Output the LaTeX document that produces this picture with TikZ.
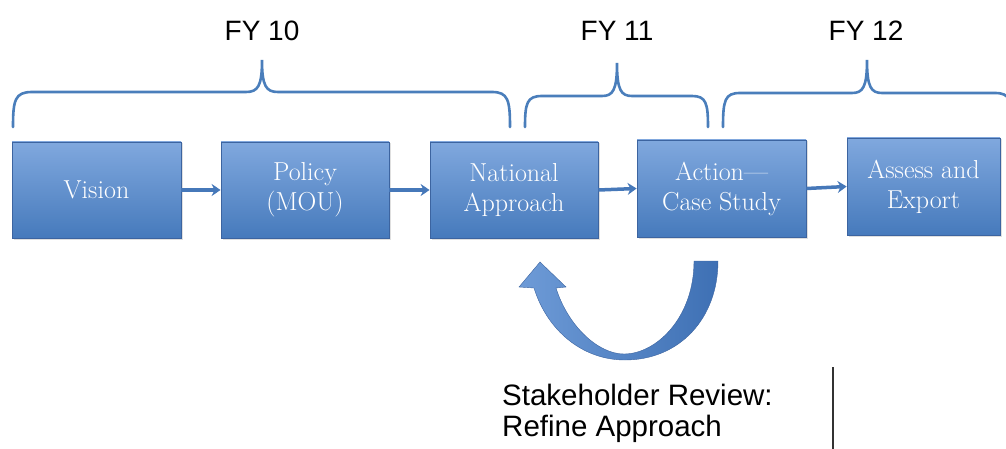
\documentclass[tikz,border=0pt]{standalone}
\usepackage{fontspec}
\setsansfont{Liberation Sans}
\usetikzlibrary{arrows.meta,shadows}
\definecolor{brc}{RGB}{74,126,187}
\definecolor{boxtop}{RGB}{128,168,222}
\definecolor{boxbot}{RGB}{70,122,188}
\definecolor{boxdraw}{RGB}{60,100,160}
\definecolor{arrc}{RGB}{70,120,185}
\definecolor{looplight}{RGB}{110,155,215}
\definecolor{loopdark}{RGB}{62,112,180}
\begin{document}
\begin{tikzpicture}[x=1pt,y=-1pt,
  stagebox/.style={draw=boxdraw,line width=0.8pt,top color=boxtop,bottom color=boxbot,
    text=white,align=center,inner sep=0pt,
    font=\fontsize{26}{30}\selectfont,
    drop shadow={shadow xshift=1.5pt,shadow yshift=-1.5pt,opacity=0.25}},
  flow/.style={draw=arrc,line width=3.5pt,-{Stealth[length=9pt,width=12pt]}},
  bracepath/.style={draw=brc,line width=2.6pt,line cap=round},
  fylabel/.style={font=\sffamily\fontsize{28}{32}\selectfont,inner sep=0pt},
  loopshape/.style={left color=looplight,right color=loopdark,draw=boxdraw,line width=0.4pt}
]
\useasboundingbox (0,0) rectangle (1006,449);
% boxes
\node[stagebox,minimum width=169pt,minimum height=96pt] (vision) at (96.5,190) {Vision};
\node[stagebox,minimum width=168pt,minimum height=96pt] (policy) at (305,190) {Policy\\(MOU)};
\node[stagebox,minimum width=168pt,minimum height=96pt] (national) at (514,190) {National\\Approach};
\node[stagebox,minimum width=169pt,minimum height=97pt] (action) at (721.5,188.5) {Action---\\Case Study};
\node[stagebox,minimum width=153pt,minimum height=97pt] (assess) at (923.5,186.5) {Assess and\\Export};
% arrows
\draw[flow] (vision.east) -- (policy.west);
\draw[flow] (policy.east) -- (national.west);
\draw[flow] (national.east) -- (action.west);
\draw[flow] (action.east) -- (assess.west);
% braces
\draw[bracepath] (13,127) .. controls (13,100) and (15,92) .. (32,92) -- (246,92)
  .. controls (258,92) and (262,86) .. (262,60) .. controls (262,86) and (266,92) .. (278,92)
  -- (492,92) .. controls (508,92) and (510,100) .. (510,127);
\draw[bracepath] (525,127) .. controls (525,103) and (527,96) .. (542,96) -- (602,96)
  .. controls (613,96) and (617,90) .. (617,63) .. controls (617,90) and (621,96) .. (632,96)
  -- (692,96) .. controls (706,96) and (708,103) .. (708,127);
\begin{scope}
\clip (0,0) rectangle (1006,449);
\draw[bracepath] (723,127) .. controls (723,100) and (725,93) .. (740,93) -- (852,93)
  .. controls (863,93) and (867,87) .. (867,60) .. controls (867,87) and (871,93) .. (882,93)
  -- (995,93) .. controls (1010,93) and (1012,100) .. (1012,127);
\end{scope}
% FY labels
\node[fylabel] (fy10) at (262,31) {FY 10};
\node[fylabel] (fy11) at (617,31) {FY 11};
\node[fylabel] (fy12) at (866,31) {FY 12};
% curved feedback arrow
\path[loopshape] (694,261) -- (718,261)
  .. controls (718,318) and (680,360) .. (625,360)
  .. controls (582,360) and (547,330) .. (534,288)
  -- (519,287) -- (540,262) -- (566,287) -- (556,288)
  .. controls (568,326) and (598,354) .. (624,354)
  .. controls (656,354) and (694,318) .. (694,261) -- cycle;
% stakeholder text
\node[font=\sffamily\fontsize{29.5}{31}\selectfont,align=left,anchor=north west,inner sep=0pt]
  (review) at (502,384) {Stakeholder Review:\\Refine Approach};
% vertical line
\coordinate (vtop) at (833,367);
\coordinate (vbot) at (833,449);
\draw[line width=1.5pt,black!80] (vtop) -- (vbot);
\end{tikzpicture}
\end{document}
